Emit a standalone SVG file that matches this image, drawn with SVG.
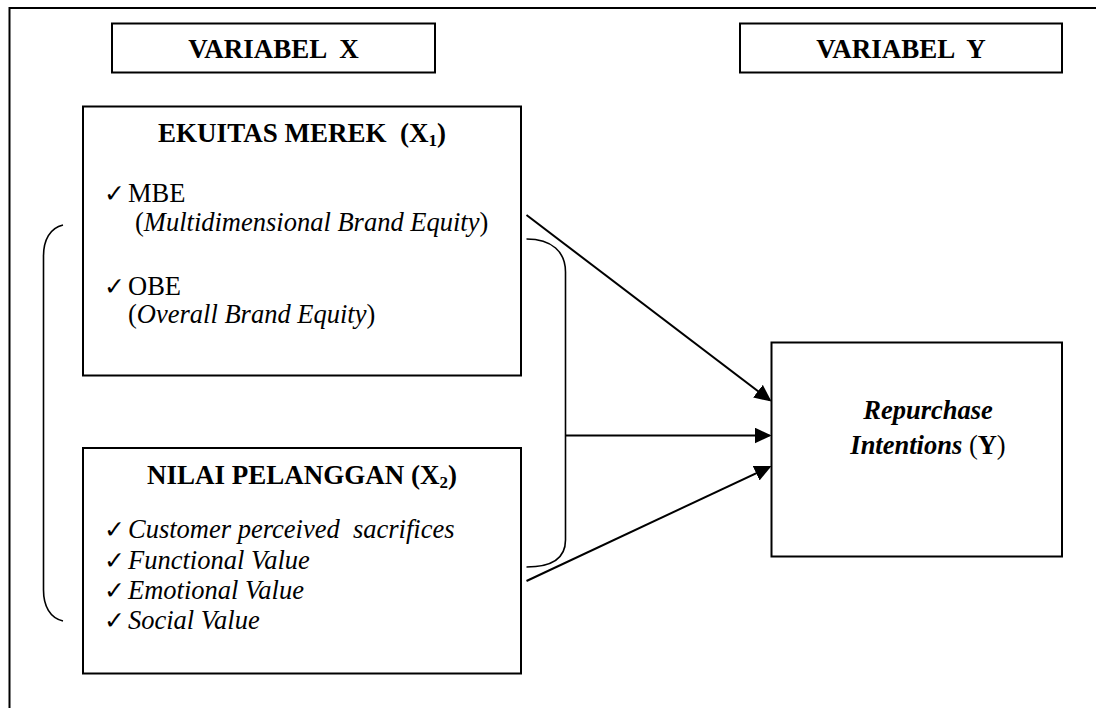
<svg xmlns="http://www.w3.org/2000/svg" width="1096" height="708" viewBox="0 0 1096 708">
<style>
.box{fill:#fff;stroke:#000;stroke-width:2}
.t{font-family:"Liberation Serif","Times New Roman",serif;font-size:26.5px;fill:#000}
.h{font-size:27px}
.b{font-weight:bold}
.i{font-style:italic}
.ck{font-family:"DejaVu Sans",sans-serif;font-size:25px;fill:#000}
.ln{fill:none;stroke:#000;stroke-width:2}
.br{fill:none;stroke:#000;stroke-width:1.6}
</style>
<defs>
<marker id="ah" markerUnits="userSpaceOnUse" markerWidth="20" markerHeight="18" refX="15" refY="8" orient="auto">
<path d="M0,0 L17,8 L0,16 z" fill="#000"/>
</marker>
</defs>
<rect width="1096" height="708" fill="#fff"/>
<path class="ln" d="M9.5 712 V8 H1100"/>

<g id="variabel-x">
<rect class="box" x="112" y="23.5" width="323" height="49"/>
<text class="t h b" x="273.5" y="58" text-anchor="middle" xml:space="preserve">VARIABEL  X</text>
</g>

<g id="variabel-y">
<rect class="box" x="740" y="23.5" width="322" height="49"/>
<text class="t h b" x="901" y="58" text-anchor="middle" xml:space="preserve">VARIABEL  Y</text>
</g>

<g id="ekuitas-merek">
<rect class="box" x="83" y="106.5" width="438" height="269"/>
<text class="t h b" x="302" y="142" text-anchor="middle" xml:space="preserve">EKUITAS MEREK  (X<tspan font-size="17" dy="4">1</tspan><tspan dy="-4">)</tspan></text>
<text class="ck" x="104" y="202">✓</text>
<text class="t" x="128" y="202">MBE</text>
<text class="t" x="135" y="231">(<tspan class="i">Multidimensional Brand Equity</tspan>)</text>
<text class="ck" x="104" y="295">✓</text>
<text class="t" x="128" y="295">OBE</text>
<text class="t" x="128" y="323">(<tspan class="i">Overall Brand Equity</tspan>)</text>
</g>

<g id="nilai-pelanggan">
<rect class="box" x="83" y="448" width="438" height="225.5"/>
<text class="t h b" x="302" y="484" text-anchor="middle">NILAI PELANGGAN (X<tspan font-size="17" dy="4">2</tspan><tspan dy="-4">)</tspan></text>
<text class="ck" x="104" y="538">✓</text>
<text class="t i" x="128" y="538" xml:space="preserve">Customer perceived  sacrifices</text>
<text class="ck" x="104" y="569">✓</text>
<text class="t i" x="128" y="569">Functional Value</text>
<text class="ck" x="104" y="599">✓</text>
<text class="t i" x="128" y="599">Emotional Value</text>
<text class="ck" x="104" y="629">✓</text>
<text class="t i" x="128" y="629">Social Value</text>
</g>

<g id="repurchase-intentions">
<rect class="box" x="771.5" y="342.5" width="290.5" height="214"/>
<text class="t b i" x="928" y="419" text-anchor="middle">Repurchase</text>
<text class="t" x="928" y="454" text-anchor="middle"><tspan class="b i">Intentions</tspan> (<tspan class="b">Y</tspan>)</text>
</g>

<g id="connectors">
<path class="br" d="M63 225 C50 228 43.5 240 43.5 256 V590 C43.5 606 50 618 63 621"/>
<path class="br" d="M526.5 239 C552 239 565.5 252 565.5 272 V540 C565.5 558 552 567 526.5 567"/>
<line class="ln" x1="526.5" y1="215" x2="769.9" y2="400.3" marker-end="url(#ah)"/>
<line class="ln" x1="565.5" y1="435.5" x2="769.5" y2="435.5" marker-end="url(#ah)"/>
<line class="ln" x1="526.5" y1="581" x2="769.7" y2="466.9" marker-end="url(#ah)"/>
</g>
</svg>
